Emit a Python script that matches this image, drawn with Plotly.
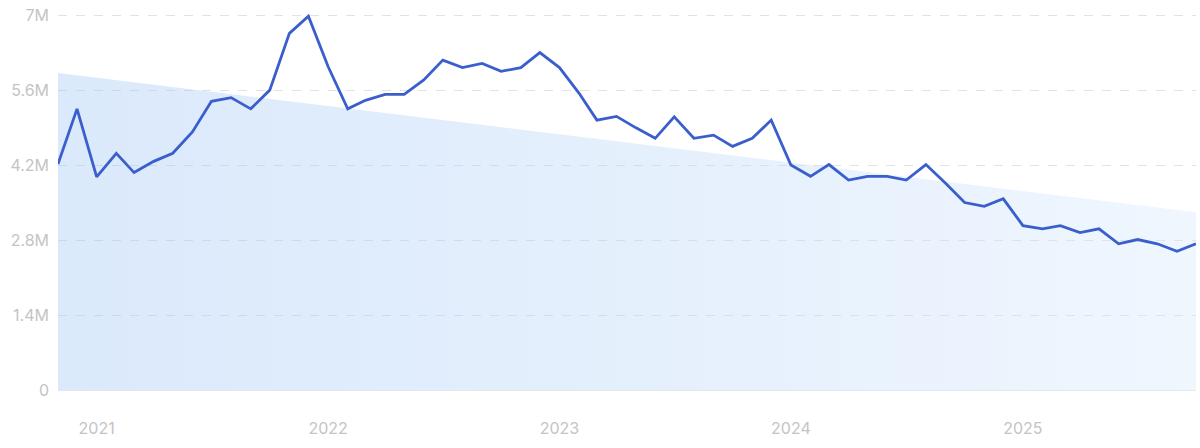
import plotly.graph_objects as go
import pandas as pd

# Monthly values, Nov 2020 .. Oct 2025 (millions)
months = pd.date_range("2020-11-01", periods=60, freq="MS")
values = [
    4.22, 5.25, 3.98, 4.42, 4.06, 4.27, 4.42, 4.82, 5.39, 5.46,
    5.25, 5.60, 6.66, 6.98, 6.04, 5.25, 5.41, 5.52, 5.52, 5.79,
    6.16, 6.02, 6.10, 5.95, 6.02, 6.30, 6.02, 5.54, 5.04, 5.11,
    4.90, 4.70, 5.10, 4.70, 4.76, 4.55, 4.70, 5.04, 4.20, 3.99,
    4.21, 3.92, 3.99, 3.99, 3.92, 4.21, 3.86, 3.50, 3.43, 3.57,
    3.07, 3.01, 3.07, 2.94, 3.01, 2.73, 2.81, 2.73, 2.59, 2.73,
]
values = [v * 1e6 for v in values]

# Trend endpoints (millions)
trend_x = [months[0], months[-1]]
trend_y = [5.92e6, 3.32e6]

y_ticks = [0, 1.4e6, 2.8e6, 4.2e6, 5.6e6, 7e6]
y_labels = ["0", "1.4M", "2.8M", "4.2M", "5.6M", "7M"]

LINE_COLOR = "#3A5FCD"
GRID_COLOR = "#E2E2E2"
TICK_COLOR = "#C4C4C4"
FONT_FAMILY = "Inter"

fig = go.Figure()

# Trend area, translucent so the grid shows through
fig.add_trace(
    go.Scatter(
        x=trend_x,
        y=trend_y,
        mode="lines",
        line=dict(width=0),
        fill="tozeroy",
        fillgradient=dict(
            type="horizontal",
            colorscale=[[0, "rgba(163,200,245,0.4)"], [1, "rgba(215,233,253,0.4)"]],
        ),
        hoverinfo="skip",
        showlegend=False,
    )
)

fig.add_trace(
    go.Scatter(
        x=months,
        y=values,
        mode="lines",
        line=dict(color=LINE_COLOR, width=2.8),
        showlegend=False,
    )
)

fig.update_xaxes(
    range=[months[0], months[-1]],
    tick0="2021-01-01",
    dtick="M12",
    tickformat="%Y",
    showgrid=False,
    zeroline=False,
    showline=False,
    ticks="",
    automargin=False,
    ticklabelstandoff=27,
    tickfont=dict(size=16, color=TICK_COLOR, family=FONT_FAMILY),
)

# a little headroom above 7M so its grid line is not clipped at the edge
fig.update_yaxes(
    range=[0, 7.04e6],
    tickvals=y_ticks,
    ticktext=y_labels,
    showgrid=True,
    gridcolor=GRID_COLOR,
    griddash="dash",
    gridwidth=1,
    zeroline=True,
    zerolinecolor="#E2E8F0",
    zerolinewidth=1,
    showline=False,
    ticks="",
    automargin=False,
    ticklabelstandoff=8,
    ticklabeloverflow="allow",
    tickfont=dict(size=16, color=TICK_COLOR, family=FONT_FAMILY),
)

fig.update_layout(
    width=1200,
    height=448,
    margin=dict(l=58, r=4, t=13, b=58),
    plot_bgcolor="white",
    paper_bgcolor="white",
    font=dict(family=FONT_FAMILY),
    hovermode="x unified",
)

# drop the default 8px body margin so the figure sits at the page corner
fig.write_html(
    "out.html",
    config={"displayModeBar": False},
    post_script="document.body.style.margin='0';",
)
